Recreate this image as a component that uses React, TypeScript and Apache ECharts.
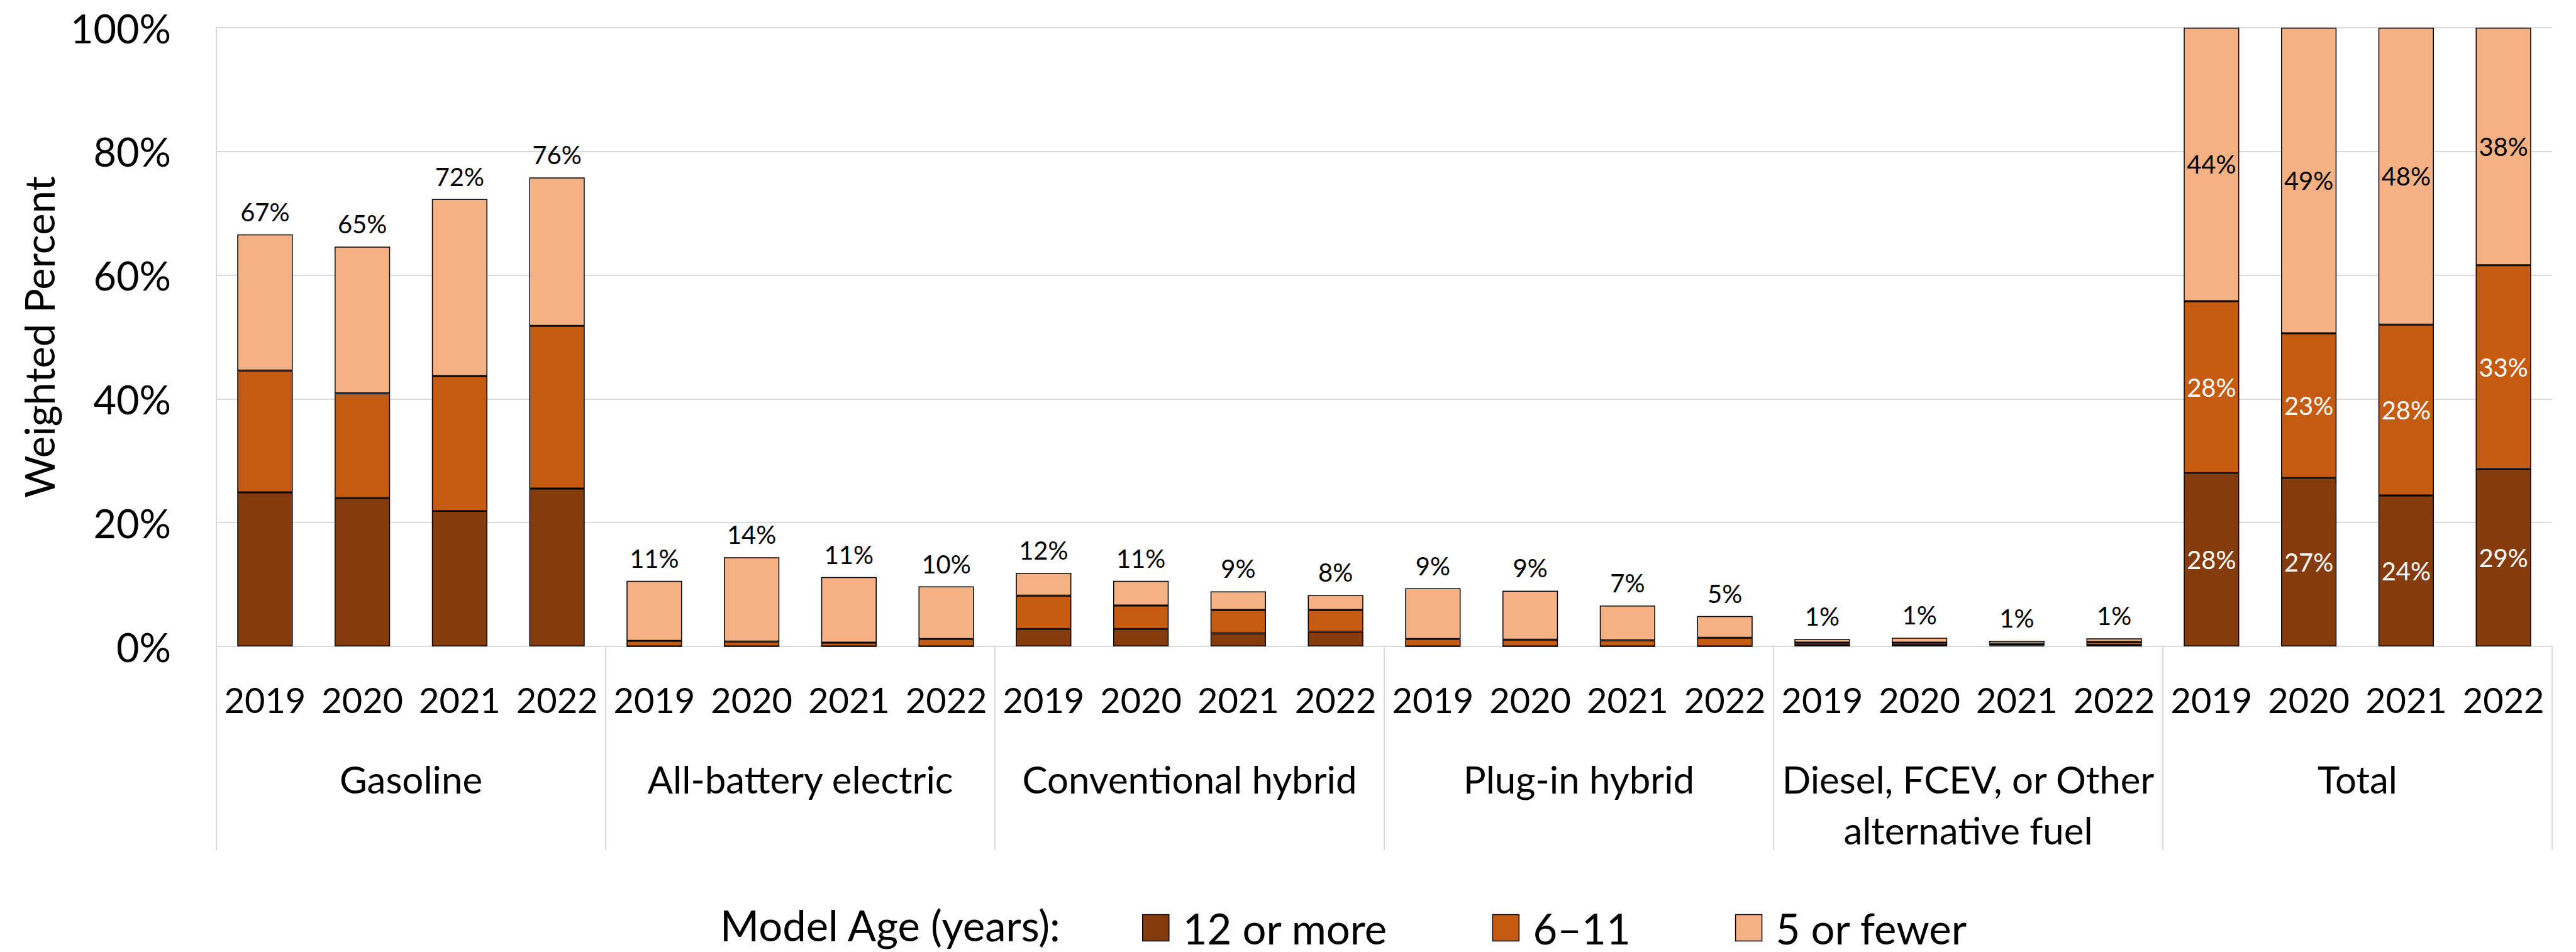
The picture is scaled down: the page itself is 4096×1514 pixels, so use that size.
import React, { useEffect, useRef } from "react";
import * as echarts from "echarts";

// ---- data (weighted percent) ----
const fuelTypes = [
  "Gasoline",
  "All-battery electric",
  "Conventional hybrid",
  "Plug-in hybrid",
  "Diesel, FCEV, or Other\nalternative fuel",
  "Total",
];
const years = ["2019", "2020", "2021", "2022"];
const seriesNames = ["12 or more", "6–11", "5 or fewer"];
const legendTitle = "Model Age (years):";
const yAxisTitle = "Weighted Percent";

// order: Gasoline x4, BEV x4, Conv hybrid x4, PHEV x4, Diesel/other x4, Total x4
const twelveOrMore = [
  24.9, 24.0, 21.9, 25.5,
  0, 0, 0, 0,
  2.8, 2.8, 2.1, 2.4,
  0, 0, 0, 0,
  0.2, 0.2, 0.15, 0.2,
  28.0, 27.2, 24.4, 28.7,
];
const sixToEleven = [
  19.7, 16.9, 21.8, 26.3,
  0.9, 0.8, 0.6, 1.2,
  5.4, 3.8, 3.8, 3.5,
  1.2, 1.1, 1.0, 1.4,
  0.4, 0.4, 0.3, 0.5,
  27.8, 23.4, 27.6, 32.9,
];
const fiveOrFewer = [
  22.0, 23.7, 28.6, 24.0,
  9.7, 13.6, 10.6, 8.5,
  3.7, 4.0, 3.0, 2.4,
  8.2, 7.9, 5.6, 3.5,
  0.6, 0.8, 0.45, 0.6,
  44.2, 49.4, 48.0, 38.4,
];
const colors = ["#843C0C", "#C55A11", "#F4B183"];

const FONT = "Lato";

export default function App() {
  const ref = useRef<HTMLDivElement>(null);

  useEffect(() => {
    if (!ref.current) return;
    const chart = echarts.init(ref.current, undefined, { renderer: "svg" });

    const categories = fuelTypes.flatMap((f) => years.map((y) => f + "|" + y));
    const totalIdxStart = (fuelTypes.length - 1) * years.length;
    const pct = (v: number) => Math.round(v) + "%";
    const totals = twelveOrMore.map(
      (v, i) => Math.round((v + sixToEleven[i] + fiveOrFewer[i]) * 10) / 10
    );

    const makeData = (vals: number[], isTop: boolean, insideColor: string) =>
      vals.map((v, i) => {
        if (i >= totalIdxStart) {
          return {
            value: v,
            label: {
              show: true,
              position: "inside",
              color: insideColor,
              formatter: pct(v),
            },
          };
        }
        if (isTop) {
          return {
            value: v,
            label: {
              show: true,
              position: "top",
              distance: 16,
              color: "#000",
              formatter: pct(totals[i]),
            },
          };
        }
        return { value: v, label: { show: false } };
      });

    const seriesVals = [twelveOrMore, sixToEleven, fiveOrFewer];
    const labelColors = ["#ffffff", "#ffffff", "#000000"];

    const option: any = {
      animation: false,
      backgroundColor: "#ffffff",
      textStyle: { fontFamily: FONT },
      grid: { left: 344, right: 38, top: 44, bottom: 486, containLabel: false },
      legend: {
        left: 1811,
        top: 1437,
        icon: "rect",
        itemWidth: 42,
        itemHeight: 42,
        itemGap: 166,
        itemStyle: { borderColor: "#000", borderWidth: 1.5 },
        textStyle: {
          fontFamily: FONT,
          fontSize: 67,
          lineHeight: 67,
          color: "#000",
          padding: [0, 0, 0, 17],
        },
        data: seriesNames,
      },
      graphic: [
        {
          type: "text",
          x: 1145,
          y: 1471,
          style: {
            text: legendTitle,
            fontFamily: FONT,
            fontSize: 67,
            lineHeight: 67,
            fill: "#000",
            verticalAlign: "middle",
            align: "left",
          },
        },
      ],
      xAxis: [
        {
          type: "category",
          data: categories,
          position: "bottom",
          axisLine: { show: true, lineStyle: { color: "#d9d9d9", width: 2 } },
          axisTick: { show: false },
          axisLabel: {
            interval: 0,
            fontFamily: FONT,
            fontSize: 56,
            color: "#000",
            margin: 84,
            verticalAlign: "middle",
            formatter: (v: string) => v.split("|")[1],
          },
          splitLine: { show: false },
        },
        {
          type: "category",
          data: fuelTypes,
          position: "bottom",
          axisLine: { show: false },
          axisTick: {
            show: true,
            length: 324,
            interval: 0,
            lineStyle: { color: "#d9d9d9", width: 2 },
          },
          axisLabel: {
            interval: 0,
            fontFamily: FONT,
            fontSize: 60,
            lineHeight: 81,
            color: "#000",
            margin: 170,
            verticalAlign: "top",
            align: "center",
          },
          splitLine: { show: false },
        },
      ],
      yAxis: {
        type: "value",
        min: 0,
        max: 100,
        interval: 20,
        name: yAxisTitle,
        nameLocation: "middle",
        nameGap: 250,
        nameTextStyle: { fontFamily: FONT, fontSize: 65, color: "#000" },
        axisLine: { show: true, lineStyle: { color: "#d9d9d9", width: 2 } },
        axisTick: { show: false },
        axisLabel: {
          fontFamily: FONT,
          fontSize: 63,
          color: "#000",
          margin: 72,
          formatter: "{value}%",
        },
        splitLine: { show: true, lineStyle: { color: "#d9d9d9", width: 2 } },
      },
      series: seriesNames.map((name, s) => ({
        name,
        type: "bar",
        stack: "age",
        xAxisIndex: 0,
        barWidth: "57%",
        itemStyle: { color: colors[s], borderColor: "#000", borderWidth: 1.5 },
        label: { fontFamily: FONT, fontSize: 40 },
        data: makeData(seriesVals[s], s === 2, labelColors[s]),
      })),
    };

    chart.setOption(option);
    return () => chart.dispose();
  }, []);

  return (
    <div
      ref={ref}
      style={{ position: "fixed", left: 0, top: 0, width: 4096, height: 1514 }}
    />
  );
}
